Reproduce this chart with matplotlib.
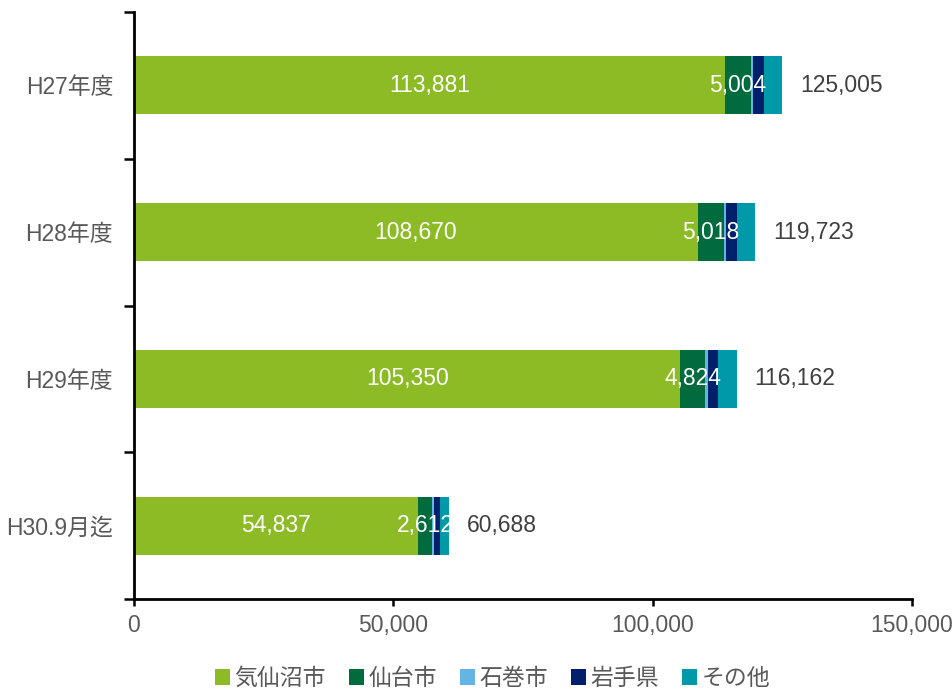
import matplotlib
matplotlib.use("Agg")
import matplotlib.pyplot as plt
from matplotlib.patches import Patch
from matplotlib.ticker import FuncFormatter, FixedLocator

plt.rcParams['font.family'] = ['Liberation Sans', 'Noto Sans CJK JP']

# 年度別の来訪者数（地域別内訳）
years = ["H27年度", "H28年度", "H29年度", "H30.9月迄"]
regions = ["気仙沼市", "仙台市", "石巻市", "岩手県", "その他"]
kesennuma = [113881, 108670, 105350, 54837]
sendai = [5004, 5018, 4824, 2612]
ishinomaki = [450, 450, 580, 450]
iwate = [2060, 2120, 1930, 1090]
other = [3610, 3465, 3478, 1699]
totals = [125005, 119723, 116162, 60688]

colors = ["#8CBB26", "#006B3C", "#65B5E4", "#00206B", "#0099AA"]
series = [kesennuma, sendai, ishinomaki, iwate, other]

fs = 16.5

fig = plt.figure(figsize=(9.53, 6.89), dpi=100)
ax = fig.add_axes([0.1406, 0.1306, 0.8164, 0.852])

ypos = list(range(len(years)))
left = [0] * len(years)
for vals, col in zip(series, colors):
    ax.barh(ypos, vals, left=left, height=0.395, color=col)
    left = [l + v for l, v in zip(left, vals)]

fmt = lambda v: f"{v:,}"
for i in ypos:
    ax.text(kesennuma[i] / 2, i, fmt(kesennuma[i]), color="white",
            ha="center", va="center", fontsize=fs)
    ax.text(kesennuma[i] + sendai[i] / 2, i, fmt(sendai[i]), color="white",
            ha="center", va="center", fontsize=fs)
    ax.annotate(fmt(totals[i]), xy=(totals[i], i), xytext=(13, 0),
                textcoords="offset points", ha="left", va="center",
                fontsize=fs, color="#404040")

ax.set_xlim(0, 150000)
ax.set_ylim(3.5, -0.5)
ax.set_xticks([0, 50000, 100000, 150000])
ax.xaxis.set_major_formatter(FuncFormatter(lambda v, p: f"{int(v):,}"))

# category separators as ticks, labels at the bar centres
ax.yaxis.set_major_locator(FixedLocator([-0.5, 0.5, 1.5, 2.5, 3.5]))
ax.yaxis.set_major_formatter(FuncFormatter(lambda v, p: ""))
ax.yaxis.set_minor_locator(FixedLocator(ypos))
ax.set_yticklabels(years, minor=True)
ax.tick_params(axis="y", which="major", length=7, width=1.8, color="black")
ax.tick_params(axis="y", which="minor", length=0, pad=15,
               labelsize=fs, labelcolor="#595959")
ax.tick_params(axis="x", length=5, width=1.8, color="black",
               labelsize=fs, labelcolor="#595959", pad=6)

for s in ["top", "right"]:
    ax.spines[s].set_visible(False)
for s in ["left", "bottom"]:
    ax.spines[s].set_linewidth(2)
    ax.spines[s].set_color("black")

handles = [Patch(facecolor=c, label=r) for c, r in zip(colors, regions)]
fig.legend(handles=handles, loc="center", bbox_to_anchor=(0.517, 0.015),
           ncol=5, frameon=False, fontsize=fs, handlelength=0.65,
           handleheight=0.65, handletextpad=0.2, columnspacing=1.0,
           labelcolor="#595959")

fig.savefig("out.png", dpi=100)
